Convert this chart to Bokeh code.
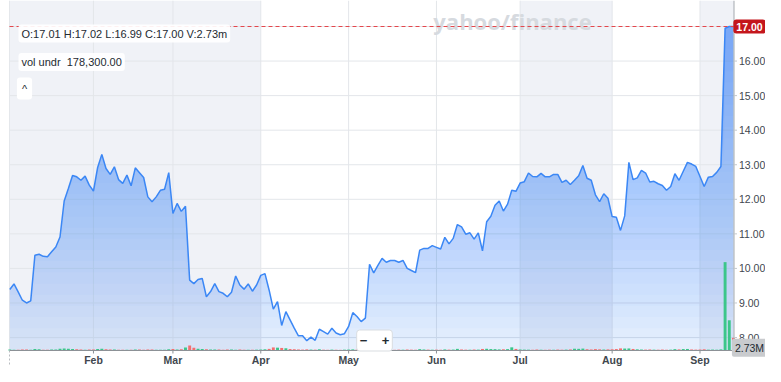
import numpy as np
import pandas as pd
from bokeh.plotting import figure
from bokeh.models import Range1d, BoxAnnotation, Label
from bokeh.core.properties import value
from bokeh.embed import file_html
from bokeh.resources import INLINE

# ---------------- data ----------------
holidays = ["2025-01-09", "2025-01-20", "2025-02-17", "2025-04-18",
            "2025-05-26", "2025-06-19", "2025-07-04", "2025-09-01"]
dates = pd.bdate_range("2025-01-02", "2025-09-12", freq="C", holidays=holidays)

close_jan = [9.39, 9.55, 9.32, 9.08, 9.00, 9.06, 10.38, 10.41, 10.35, 10.34,
             10.48, 10.62, 10.91, 11.95, 12.31, 12.69, 12.65, 12.55, 12.67, 12.41]
close_feb = [12.24, 12.92, 13.30, 12.89, 12.72, 12.94, 12.57, 12.46, 12.70, 12.39,
             12.91, 12.77, 12.63, 12.07, 11.93, 12.07, 12.26, 12.29, 12.77]
close_mar = [11.59, 11.88, 11.65, 11.80, 9.66, 9.56, 9.68, 9.71, 9.18, 9.33,
             9.56, 9.33, 9.28, 9.18, 9.31, 9.78, 9.52, 9.40, 9.55, 9.34, 9.52]
close_apr = [9.80, 9.85, 9.37, 8.82, 9.04, 8.35, 8.75, 8.51, 8.27, 8.05,
             8.05, 7.91, 8.01, 7.92, 8.24, 8.17, 8.10, 8.27, 8.13, 8.08, 8.11]
close_may = [8.32, 8.72, 8.61, 8.46, 8.56, 10.12, 9.87, 10.09, 10.29, 10.18,
             10.23, 10.23, 10.18, 10.23, 10.00, 9.94, 9.88, 10.53, 10.58, 10.58, 10.66]
close_jun = [10.61, 10.56, 10.90, 10.71, 10.87, 11.27, 11.20, 10.99, 11.03, 10.85,
             11.03, 10.51, 11.35, 11.51, 11.83, 11.95, 11.66, 11.86, 12.26, 12.23]
close_jul = [12.47, 12.51, 12.76, 12.66, 12.65, 12.75, 12.65, 12.65, 12.72, 12.72,
             12.49, 12.55, 12.43, 12.55, 12.68, 12.98, 12.61, 12.55, 12.13, 11.93,
             12.16, 12.03]
close_aug = [11.50, 11.48, 11.10, 11.52, 13.07, 12.57, 12.62, 12.84, 12.76, 12.50,
             12.52, 12.45, 12.40, 12.26, 12.37, 12.74, 12.55, 12.81, 13.07, 13.02, 12.95]
close_sep = [12.66, 12.37, 12.64, 12.66, 12.78, 12.95, 16.95, 17.00, 17.00]

# volume in millions of shares
vol_jan = [0.21, 0.18, 0.15, 0.22, 0.19, 0.17, 0.34, 0.25, 0.16, 0.14,
           0.20, 0.23, 0.38, 0.41, 0.36, 0.33, 0.29, 0.24, 0.18, 0.20]
vol_feb = [0.22, 0.31, 0.35, 0.26, 0.19, 0.21, 0.17, 0.15, 0.18, 0.16,
           0.24, 0.19, 0.14, 0.23, 0.20, 0.17, 0.18, 0.15, 0.27]
vol_mar = [0.30, 0.22, 0.26, 0.62, 1.05, 0.58, 0.40, 0.33, 0.29, 0.24,
           0.21, 0.19, 0.18, 0.23, 0.20, 0.16, 0.19, 0.15, 0.17, 0.14, 0.18]
vol_apr = [0.21, 0.26, 0.35, 0.66, 0.61, 0.55, 0.48, 0.31, 0.27, 0.22,
           0.19, 0.24, 0.20, 0.18, 0.26, 0.17, 0.15, 0.19, 0.16, 0.14, 0.18]
vol_may = [0.20, 0.24, 0.19, 0.17, 0.22, 0.72, 0.34, 0.28, 0.21, 0.18,
           0.16, 0.15, 0.19, 0.17, 0.21, 0.18, 0.16, 0.29, 0.22, 0.19, 0.17]
vol_jun = [0.18, 0.16, 0.23, 0.19, 0.20, 0.35, 0.22, 0.18, 0.17, 0.21,
           0.19, 0.33, 0.37, 0.31, 0.29, 0.24, 0.26, 0.30, 0.68, 0.34]
vol_jul = [0.22, 0.19, 0.18, 0.16, 0.21, 0.17, 0.15, 0.18, 0.16, 0.20,
           0.17, 0.19, 0.23, 0.38, 0.36, 0.41, 0.27, 0.22, 0.30, 0.25, 0.21, 0.24]
vol_aug = [0.26, 0.31, 0.45, 0.42, 0.44, 0.33, 0.25, 0.21, 0.19, 0.22,
           0.18, 0.17, 0.20, 0.16, 0.18, 0.29, 0.24, 0.31, 0.33, 0.22, 0.19]
vol_sep = [0.21, 0.26, 0.18, 0.20, 0.17, 0.24, 19.0, 6.5, 2.73]

last_open, last_high, last_low = 17.01, 17.02, 16.99
vol_under = 178300.00
price_ticks = [8, 9, 10, 11, 12, 13, 14, 15, 16, 17]
shaded_months = [1, 2, 3, 7, 9]

close = np.array(close_jan + close_feb + close_mar + close_apr + close_may +
                 close_jun + close_jul + close_aug + close_sep)
volume = np.array(vol_jan + vol_feb + vol_mar + vol_apr + vol_may +
                  vol_jun + vol_jul + vol_aug + vol_sep) * 1e6
n = len(close)
dates = dates[:n]
idx = np.arange(n)

month_start = [i for i in range(1, n) if dates[i].month != dates[i - 1].month]
month_labels = [dates[i].strftime("%b") for i in month_start]

up = np.concatenate([[True], close[1:] > close[:-1]])
vol_colors = ["#3cc68a" if u else "#f46f6f" for u in up]

# ---------------- geometry (pixel <-> data) ----------------
W, H = 765, 366
X0, UX = 9.3, 4.183          # pixel x of first session, pixels per session
Y17, UY = 26.0, 34.56        # pixel y of 17.00, pixels per 1.00
VOL_PX = 0.215e6             # shares per pixel
BASE_PX = 350                # pixel y of the volume / time axis baseline


def fx(px):
    return (px - X0) / UX


def fy(py):
    return 17.0 - (py - Y17) / UY


plot_left, plot_right = fx(9), fx(733.5)
plot_bottom, plot_top = fy(BASE_PX), fy(0)

FONT = "Liberation Sans"
TXT = "#232a31"
AXT = "#41474e"
GRID = "#e3e6ea"

p = figure(width=W, height=H, x_range=Range1d(fx(0), fx(W)), y_range=Range1d(fy(H), fy(0)),
           output_backend="svg", toolbar_location=None,
           x_axis_location=None, y_axis_location=None,
           min_border=0, min_border_left=0, min_border_right=0,
           min_border_top=0, min_border_bottom=0)
p.background_fill_color = "white"
p.border_fill_color = "white"
p.outline_line_color = None
p.grid.visible = False
p.extra_y_ranges = {"vol": Range1d(-(H - BASE_PX) * VOL_PX, BASE_PX * VOL_PX)}

# month shading
for m in shaded_months:
    inside = [i for i in range(n) if dates[i].month == m]
    if not inside:
        continue
    left = plot_left if inside[0] == 0 else inside[0]
    right = plot_right if inside[-1] == n - 1 else inside[-1] + 1
    p.add_layout(BoxAnnotation(left=left, right=right, bottom=plot_bottom,
                               fill_color="#e3e8f0", fill_alpha=0.55,
                               line_color=None, level="image"))

# grid lines
p.segment(x0=plot_left, x1=plot_right, y0=price_ticks, y1=price_ticks,
          line_color=GRID, line_width=1)
p.segment(x0=month_start, x1=month_start, y0=plot_bottom, y1=plot_top,
          line_color=GRID, line_width=1)
p.segment(x0=[plot_left], x1=[plot_left], y0=[plot_bottom], y1=[plot_top],
          line_color="#e4e7eb", line_width=1)

# watermark
p.text(x=[fx(512)], y=[fy(20)], text=["yahoo/finance"], text_align="center",
       text_baseline="middle", text_font=value("Open Sans"), text_font_size="22px",
       text_font_style="bold", text_color="#d6dadf")

# gradient area (stacked translucent layers)
levels = np.linspace(plot_bottom, 17.0, 30)
for k, lo in enumerate(levels):
    p.varea(x=idx, y1=close, y2=np.minimum(close, lo), fill_color="#2878f0",
            fill_alpha=0.12 if k == 0 else 0.022)

# volume
p.vbar(x=idx, top=volume, bottom=0, width=0.7, y_range_name="vol",
       fill_color=vol_colors, line_color=None)

# price line
p.line(idx, close, line_color="#3b87f5", line_width=1.5)

# last price dashed line
p.segment(x0=[plot_left], x1=[plot_right], y0=[close[-1]], y1=[close[-1]],
          line_color="#e4474c", line_dash="4 3", line_width=1)

# time axis
p.segment(x0=[plot_left], x1=[plot_right], y0=[plot_bottom], y1=[plot_bottom],
          line_color="#8c9196", line_width=1)
p.segment(x0=month_start, x1=month_start, y0=plot_bottom, y1=fy(BASE_PX + 3),
          line_color="#8c9196", line_width=1)
p.segment(x0=[plot_left], x1=[plot_left], y0=[plot_bottom], y1=[fy(H)],
          line_color="#b8bcc1", line_width=1, line_dash="2 2")
p.text(x=month_start, y=[fy(BASE_PX + 9.5)] * len(month_start), text=month_labels,
       text_align="center", text_baseline="middle", text_font=value(FONT),
       text_font_size="10.5px", text_font_style="bold", text_color=AXT)

# price axis
p.segment(x0=[plot_right], x1=[plot_right], y0=[plot_bottom], y1=[plot_top],
          line_color="#a4a9ae", line_width=1)
p.segment(x0=plot_right, x1=fx(736.5), y0=price_ticks, y1=price_ticks,
          line_color="#c4c8cc", line_width=1)
p.text(x=[fx(738.5)] * len(price_ticks), y=price_ticks,
       text=[f"{t:.2f}" for t in price_ticks], text_align="left", text_baseline="middle",
       text_font=value(FONT), text_font_size="10.5px", text_color=AXT)

# info boxes
info = (f"O:{last_open:.2f} H:{last_high:.2f} L:{last_low:.2f} "
        f"C:{close[-1]:.2f} V:{volume[-1] / 1e6:.2f}m")
p.add_layout(Label(x=fx(18), y=fy(33), text=info, text_font=FONT, text_font_size="11px",
                   text_color=TXT, text_baseline="middle", background_fill_color="white",
                   background_fill_alpha=0.92, padding=3, border_radius=3))
p.add_layout(Label(x=fx(18), y=fy(61.5), text=f"vol undr\u00a0 {vol_under:,.2f}",
                   text_font=FONT, text_font_size="11px", text_color=TXT,
                   text_baseline="middle", background_fill_color="white",
                   background_fill_alpha=0.92, padding=3, border_radius=3))
p.add_layout(Label(x=fx(24), y=fy(88), text="^", text_font=FONT, text_font_size="11px",
                   text_color=TXT, text_align="center", text_baseline="middle",
                   background_fill_color="white", padding=5, border_radius=3))
p.add_layout(Label(x=fx(374), y=fy(340), text="\u2212\u00a0\u00a0\u00a0\u00a0+",
                   text_font=FONT, text_font_size="13px", text_font_style="bold",
                   text_color=TXT, text_align="center", text_baseline="middle",
                   background_fill_color="white", border_line_color="#d9dde1",
                   padding=3, border_radius=3))

# right-side value tags
p.add_layout(Label(x=fx(749), y=close[-1], text=f"{close[-1]:.2f}", text_font=FONT,
                   text_font_size="10.5px", text_font_style="bold", text_color="white",
                   text_align="center", text_baseline="middle",
                   background_fill_color="#c4161c", padding=3, border_radius=3))
p.add_layout(Label(x=fx(749), y=volume[-1], y_range_name="vol", y_offset=-10,
                   text=f"{volume[-1] / 1e6:.2f}M", text_font=FONT, text_font_size="10.5px",
                   text_color=TXT, text_align="center", text_baseline="middle",
                   background_fill_color="#c9cbce", padding=3, border_radius=2))

open("out.html", "w").write(file_html(p, INLINE))
